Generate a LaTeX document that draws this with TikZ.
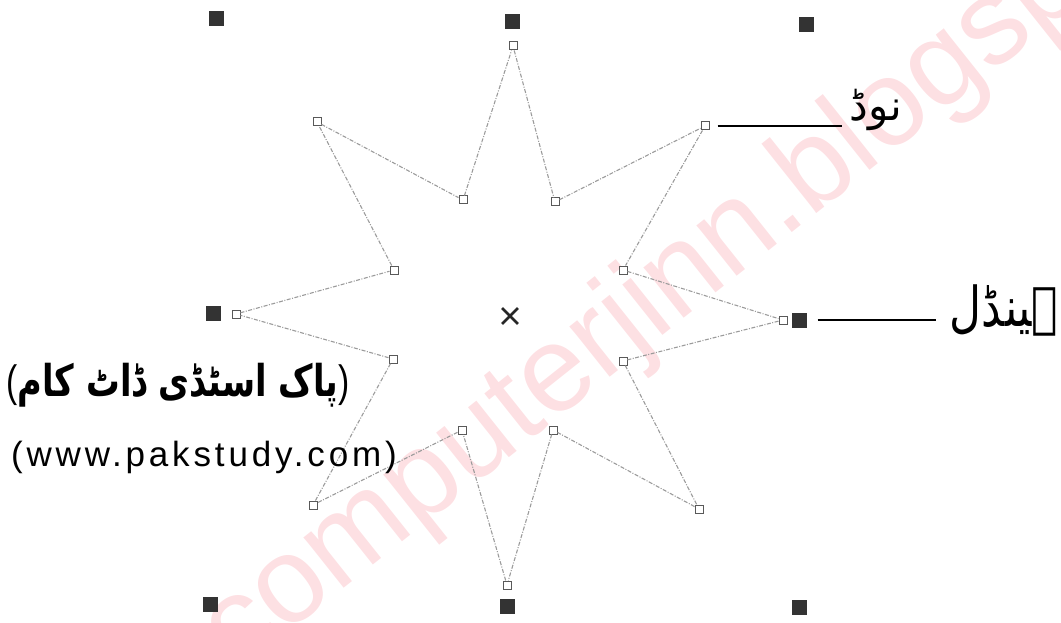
\documentclass[tikz,border=0pt]{standalone}
\usepackage{fontspec}
\usepackage{graphicx}
\usetikzlibrary{shapes.misc}
\setmainfont{Liberation Sans}
\newfontfamily\urdu[Script=Arabic]{DejaVu Sans}
\newfontfamily\urdub[Script=Arabic]{DejaVu Sans Bold}
\newfontfamily\latinfont{Liberation Sans}
\newfontfamily\urlfont[LetterSpace=11]{Liberation Sans}
\TeXXeTstate=1
\definecolor{wmpink}{RGB}{253,224,227}
\definecolor{edgegray}{RGB}{155,155,155}
\begin{document}
\begin{tikzpicture}[x=1pt,y=-1pt,
  wmtext/.style={text=wmpink, inner sep=0, font=\fontsize{122}{126}\selectfont},
  vtx/.style={draw=black!65, fill=white, rectangle, minimum size=8pt, inner sep=0, line width=1pt},
  handle/.style={fill=black!80, rectangle, minimum size=15pt, inner sep=0},
  edge/.style={draw=edgegray, line width=1.1pt, dash pattern=on 4pt off 1.5pt on 1pt off 1.5pt},
  leader/.style={draw=black, line width=2.6pt},
  lbl/.style={inner sep=0}]
\useasboundingbox (0,0) rectangle (1061,623);
\clip (0,0) rectangle (1061,623);
% watermark
\node[wmtext, rotate=38.5, anchor=base west] (wm) at (237,674) {computerjinn.blogspot};
% handles
\node[handle] (h1) at (216,19) {};
\node[handle] (h2) at (512,22) {};
\node[handle] (h3) at (806,25) {};
\node[handle] (h4) at (213,313) {};
\node[handle] (h5) at (799,320) {};
\node[handle] (h6) at (210,604) {};
\node[handle] (h7) at (507,606) {};
\node[handle] (h8) at (799,607) {};
% star vertices
\node[vtx] (o1) at (513,46) {};
\node[vtx] (i1) at (555,202) {};
\node[vtx] (o2) at (705,126) {};
\node[vtx] (i2) at (623,270) {};
\node[vtx] (o3) at (783,320) {};
\node[vtx] (i3) at (623,361) {};
\node[vtx] (o4) at (699,509) {};
\node[vtx] (i4) at (553,430) {};
\node[vtx] (o5) at (507,585) {};
\node[vtx] (i5) at (462,430) {};
\node[vtx] (o6) at (313,505) {};
\node[vtx] (i6) at (393,359) {};
\node[vtx] (o7) at (236,314) {};
\node[vtx] (i7) at (394,270) {};
\node[vtx] (o8) at (317,122) {};
\node[vtx] (i8) at (463,200) {};
\draw[edge] (o1) -- (i1) -- (o2) -- (i2) -- (o3) -- (i3) -- (o4) -- (i4) -- (o5) -- (i5) -- (o6) -- (i6) -- (o7) -- (i7) -- (o8) -- (i8) -- (o1);
% centre
\node[draw=black!85, cross out, minimum size=13pt, inner sep=0, line width=2.8pt] (ctr) at (510,316) {};
% labels
\node[lbl] (nodelbl) at (876,110) {\urdu\fontsize{42}{46}\selectfont\beginR نوڈ\endR};
\node[lbl] (handlelbl) at (1004,310) {\scalebox{1}[1.25]{\urdu\fontsize{44}{48}\selectfont\beginR ہینڈل\endR}};
\draw[leader, shorten <=8pt, shorten >=8pt] (o2.east) -- (o2.east -| nodelbl.west);
\draw[leader, shorten <=11pt, shorten >=14pt] (h5.east) -- (h5.east -| handlelbl.west);
\node[lbl] (pak) at (178,385) {\resizebox*{343pt}{44pt}{{\latinfont (}{\urdub\beginR پاک اسٹڈی ڈاٹ کام\endR}{\latinfont )}}};
\node[lbl] (url) at (204,457) {\urlfont\fontsize{35}{40}\selectfont (www.pakstudy.com)};
\end{tikzpicture}
\end{document}
